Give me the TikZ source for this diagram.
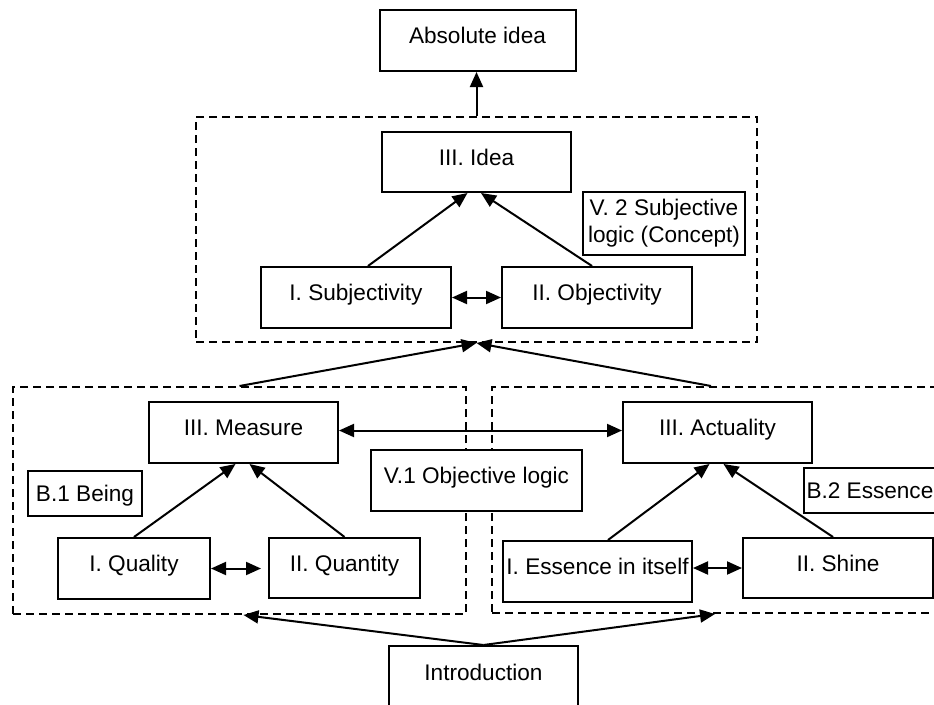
\documentclass[tikz,border=0pt]{standalone}
\usepackage{fontspec}
\setmainfont{Liberation Sans}
\usetikzlibrary{arrows.meta}
\begin{document}
\begin{tikzpicture}[x=1pt,y=-1pt,
  every node/.style={font=\fontsize{22.6}{27}\selectfont},
  box/.style 2 args={draw, fill=white, line width=2pt, minimum width=#1pt, minimum height=#2pt, inner sep=0pt, text height=16pt, text depth=10pt},
  cbox/.style 2 args={draw, fill=white, line width=2pt, minimum width=#1pt, minimum height=#2pt, inner sep=0pt, text height=17pt, text depth=1pt},
  mbox/.style 2 args={draw, fill=white, line width=2pt, minimum width=#1pt, minimum height=#2pt, inner sep=0pt, align=center},
  grp/.style 2 args={draw, dash pattern=on 8pt off 5pt, line width=2pt, minimum width=#1pt, minimum height=#2pt, inner sep=0pt},
  arr/.style={line width=2pt, -{Triangle[length=15pt,width=13pt]}},
  darr/.style={line width=2pt, {Triangle[length=15pt,width=13pt]}-{Triangle[length=15pt,width=13pt]}},
]
\useasboundingbox (0,0) rectangle (934,704);
\clip (0,0) rectangle (934,704);
% groups
\node[grp={561}{225}] (top) at (476.5,229.5) {};
\node[grp={453}{227}] (left) at (239.5,500.5) {};
\node[grp={448}{226}] (right) at (716,500) {};
% boxes
\node[box={196}{61}] (abs) at (477.5,40.5) {Absolute idea};
\node[box={189}{60}] (idea) at (476.5,162) {III. Idea};
\node[mbox={162}{63}] (v2) at (664,223.5) {V. 2 Subjective\\logic (Concept)};
\node[box={190}{61}] (subj) at (356,297.5) {I. Subjectivity};
\node[box={190}{61}] (obj) at (597,297.5) {II. Objectivity};
\node[box={189}{61}] (measure) at (243.5,432.5) {III. Measure};
\node[box={189}{61}] (act) at (717.5,432.5) {III. Actuality};
\node[cbox={114}{45}] (being) at (85,493.5) {B.1 Being};
\node[box={211}{61}] (v1) at (476.5,480.5) {V.1 Objective logic};
\node[cbox={0}{45}, inner xsep=2.5pt, anchor=west] (b2) at (803,490.5) {B.2 Essence};
\node[box={152}{61}] (quality) at (134,568.5) {I. Quality};
\node[box={151}{60}] (quantity) at (344.5,568) {II. Quantity};
\node[box={189}{61}] (ess) at (597.5,571.5) {I. Essence in itself};
\node[box={190}{60}] (shine) at (838,568) {II. Shine};
\node[box={189}{62}] (intro) at (483.5,677) {Introduction};
% connectors
\draw[arr] (top.north) -- (top.north |- abs.south);
\draw[arr] ([xshift=12pt]subj.north) -- ([xshift=-9pt]idea.south);
\draw[arr] ([xshift=-5pt]obj.north) -- ([xshift=4.5pt]idea.south);
\draw[darr] (subj.east) -- (obj.west);
\draw[arr] (left.north) -- (top.south);
\draw[arr] ([xshift=-5pt]right.north) -- (top.south);
\draw[darr] ([yshift=2pt]measure.east) -- ([yshift=2pt]act.west);
\draw[arr] (quality.north) -- ([xshift=-8pt]measure.south);
\draw[arr] (quantity.north) -- ([xshift=6pt]measure.south);
\draw[darr, shorten >=7pt] (quality.east) -- (quality.east -| quantity.west);
\draw[arr] ([xshift=10.5pt]ess.north) -- ([xshift=-8pt]act.south);
\draw[arr] ([xshift=-5pt]shine.north) -- ([xshift=6pt]act.south);
\draw[darr] (ess.east |- shine.west) -- (shine.west);
\draw[arr] (intro.north) -- ([xshift=4pt]left.south);
\draw[arr] (intro.north) -- ([xshift=-1pt]right.south);
\end{tikzpicture}
\end{document}
